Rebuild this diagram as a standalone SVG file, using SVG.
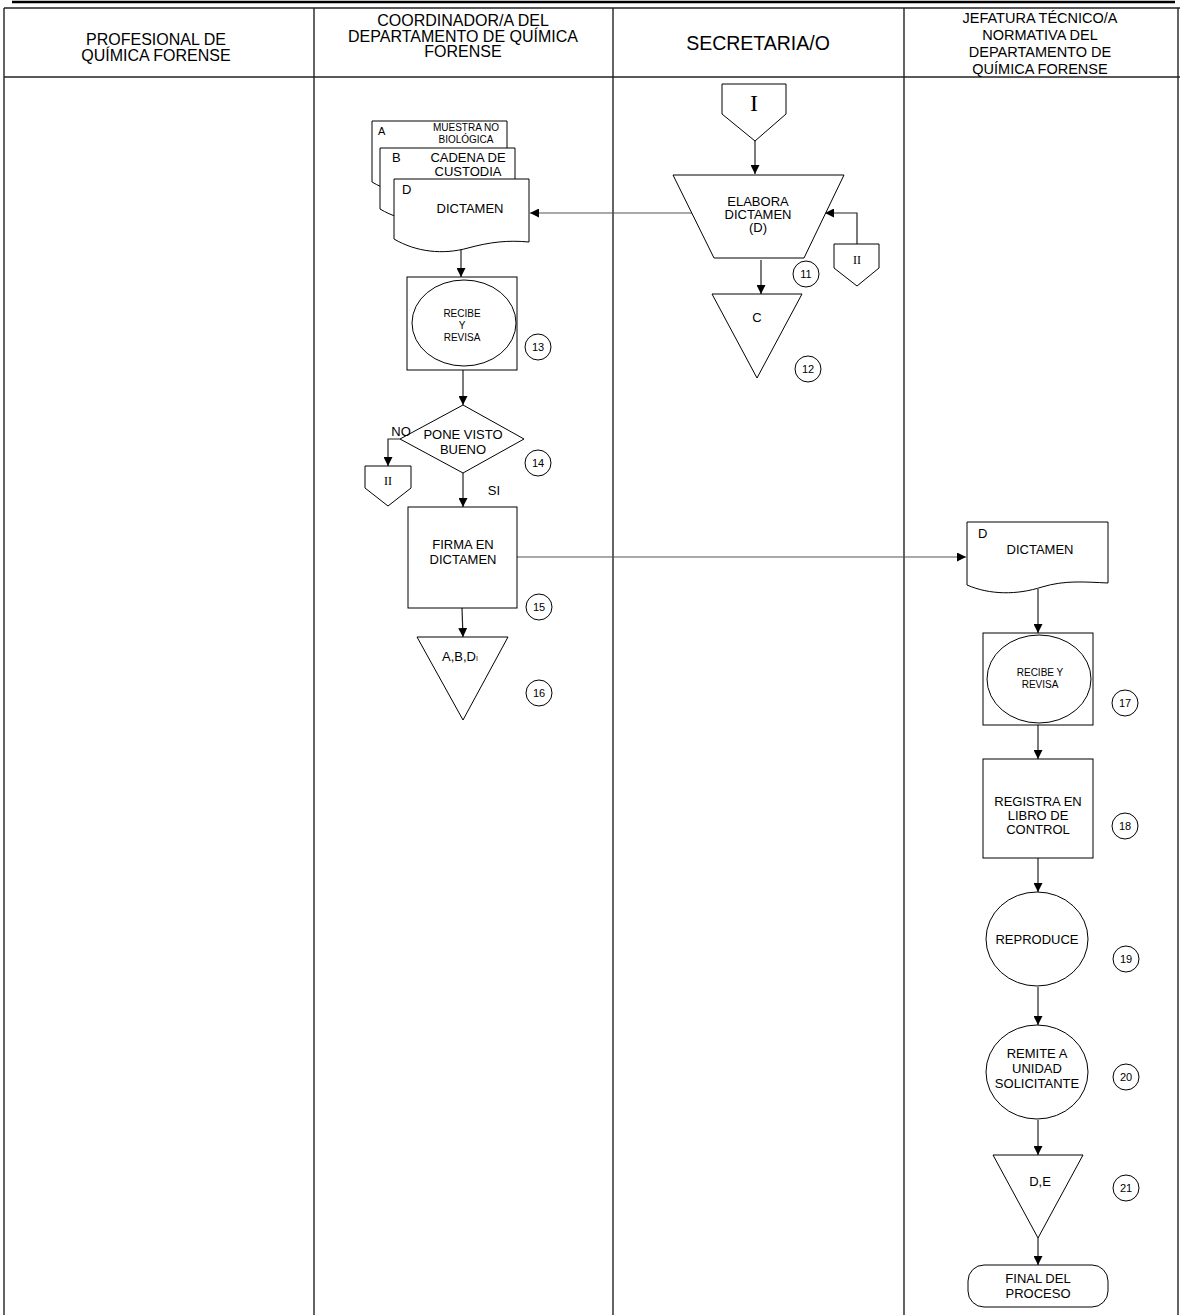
<svg xmlns="http://www.w3.org/2000/svg" width="1180" height="1315" viewBox="0 0 1180 1315">
<style>
text{font-family:'Liberation Sans',Arial,sans-serif;fill:#000;text-anchor:middle}
.h{font-size:16px}
.h4{font-size:14.5px}
.t{font-size:13px}
.s{font-size:10px}
.n{font-size:11px}
.serif{font-family:'Liberation Serif','Times New Roman',serif}
.sh{fill:#fff;stroke:#000;stroke-width:1}
.grid{stroke:#222;stroke-width:1.4;fill:none}
.c{fill:none;stroke:#222;stroke-width:1.2}
.ln{fill:none;stroke:#555;stroke-width:1.2}
</style>
<defs>
<marker id="ah" viewBox="0 0 10 10" refX="10" refY="5" markerWidth="9" markerHeight="9" markerUnits="userSpaceOnUse" orient="auto">
<path d="M0,0 L10,5 L0,10 Z" fill="#000"/>
</marker>
</defs>
<rect width="1180" height="1315" fill="#fff"/>
<g id="table">
<line x1="12" y1="2" x2="1175" y2="2" stroke="#000" stroke-width="2.5"/>
<line class="grid" x1="4" y1="8" x2="1180" y2="8"/>
<line class="grid" x1="4" y1="77" x2="1180" y2="77"/>
<line class="grid" x1="4" y1="8" x2="4" y2="1315"/>
<line class="grid" x1="314" y1="8" x2="314" y2="1315"/>
<line class="grid" x1="613" y1="8" x2="613" y2="1315"/>
<line class="grid" x1="904" y1="8" x2="904" y2="1315"/>
<line class="grid" x1="1178" y1="8" x2="1178" y2="1315"/>
<text class="h" x="156" y="45">PROFESIONAL DE</text>
<text class="h" x="156" y="61">QUÍMICA  FORENSE</text>
<text class="h" x="463" y="26">COORDINADOR/A DEL</text>
<text class="h" x="463" y="42">DEPARTAMENTO DE QUÍMICA</text>
<text class="h" x="463" y="57">FORENSE</text>
<text x="758" y="50" style="font-size:19.5px">SECRETARIA/O</text>
<text class="h4" x="1040" y="23">JEFATURA TÉCNICO/A</text>
<text class="h4" x="1040" y="40">NORMATIVA DEL</text>
<text class="h4" x="1040" y="57">DEPARTAMENTO DE</text>
<text class="h4" x="1040" y="74">QUÍMICA FORENSE</text>
</g>
<g id="connectors">
<path class="c" d="M755,141 V174" marker-end="url(#ah)"/>
<path class="ln" d="M692,213 H530" marker-end="url(#ah)"/>
<path class="c" d="M857,244 V213 H825" marker-end="url(#ah)"/>
<path class="c" d="M761,260 V294" marker-end="url(#ah)"/>
<path class="c" d="M461,249 V277" marker-end="url(#ah)"/>
<path class="c" d="M463,370 V405" marker-end="url(#ah)"/>
<path class="c" d="M400,439 H388 V466" marker-end="url(#ah)"/>
<path class="c" d="M463,473 V507" marker-end="url(#ah)"/>
<path class="ln" d="M517,557 H966" marker-end="url(#ah)"/>
<path class="c" d="M462,608 L463,637" marker-end="url(#ah)"/>
<path class="c" d="M1038,589 V633" marker-end="url(#ah)"/>
<path class="c" d="M1038,725 V759" marker-end="url(#ah)"/>
<path class="c" d="M1038,858 V892" marker-end="url(#ah)"/>
<path class="c" d="M1038,987 V1025" marker-end="url(#ah)"/>
<path class="c" d="M1038,1120 V1155" marker-end="url(#ah)"/>
<path class="c" d="M1038,1238 V1265" marker-end="url(#ah)"/>
</g>
<g id="conn-I">
<path class="sh" d="M722,84 H786 V114 L755,141 L722,114 Z"/>
<text class="serif" x="754" y="111" style="font-size:24px">I</text>
</g>
<g id="elabora">
<path class="sh" d="M673,175 H844 L804,258 H714 Z"/>
<text class="t" x="758" y="206">ELABORA</text>
<text class="t" x="758" y="219">DICTAMEN</text>
<text class="t" x="758" y="232">(D)</text>
</g>
<g id="conn-II-sec">
<path class="sh" d="M834,244 H879 V268 L857,286 L834,268 Z"/>
<text class="serif" x="857" y="264" style="font-size:12px">II</text>
</g>
<g id="n11"><circle class="sh" cx="806" cy="274" r="13"/><text class="n" x="806" y="278">11</text></g>
<g id="archivo-c">
<path class="sh" d="M712,294 H802 L757,378 Z"/>
<text class="t" x="757" y="322">C</text>
</g>
<g id="n12"><circle class="sh" cx="808" cy="369" r="13"/><text class="n" x="808" y="373">12</text></g>
<g id="doc-a">
<path class="sh" d="M372,121 H507 V185 C490,183 475,186 455,192 C430,199 395,196 372,182 Z"/>
<text class="s" x="378" y="135" style="text-anchor:start;font-size:11px">A</text>
<text class="s" x="466" y="131">MUESTRA  NO</text>
<text class="s" x="466" y="143">BIOLÓGICA</text>
</g>
<g id="doc-b">
<path class="sh" d="M380,148 H515 V212 C498,210 483,213 463,219 C438,226 403,223 380,209 Z"/>
<text class="t" x="392" y="162" style="text-anchor:start">B</text>
<text class="t" x="468" y="162">CADENA DE</text>
<text class="t" x="468" y="176">CUSTODIA</text>
</g>
<g id="doc-d">
<path class="sh" d="M394,179 H529 V242 C508,240 490,242 468,248 C443,255 416,252 394,239 Z"/>
<text class="t" x="402" y="194" style="text-anchor:start">D</text>
<text class="t" x="470" y="213">DICTAMEN</text>
</g>
<g id="recibe-1">
<rect class="sh" x="407" y="277" width="110" height="93"/>
<ellipse class="sh" cx="464" cy="323" rx="52" ry="43"/>
<text class="s" x="462" y="317">RECIBE</text>
<text class="s" x="462" y="329">Y</text>
<text class="s" x="462" y="341">REVISA</text>
</g>
<g id="n13"><circle class="sh" cx="538" cy="347" r="13"/><text class="n" x="538" y="351">13</text></g>
<g id="decision">
<path class="sh" d="M463,405 L524,439 L463,473 L400,439 Z"/>
<text class="t" x="463" y="439">PONE VISTO</text>
<text class="t" x="463" y="454">BUENO</text>
</g>
<text class="t" x="401" y="436">NO</text>
<text class="t" x="494" y="495">SI</text>
<g id="n14"><circle class="sh" cx="538" cy="463" r="13"/><text class="n" x="538" y="467">14</text></g>
<g id="conn-II-coord">
<path class="sh" d="M365,466 H411 V488 L388,506 L365,488 Z"/>
<text class="serif" x="388" y="485" style="font-size:12px">II</text>
</g>
<g id="firma">
<rect class="sh" x="408" y="507" width="109" height="101"/>
<text class="t" x="463" y="549">FIRMA EN</text>
<text class="t" x="463" y="564">DICTAMEN</text>
</g>
<g id="n15"><circle class="sh" cx="539" cy="607" r="13"/><text class="n" x="539" y="611">15</text></g>
<g id="archivo-abd">
<path class="sh" d="M417,637 H508 L463,720 Z"/>
<text class="t" x="460" y="661">A,B,D<tspan style="font-size:7px">I</tspan></text>
</g>
<g id="n16"><circle class="sh" cx="539" cy="693" r="13"/><text class="n" x="539" y="697">16</text></g>
<g id="doc-d-jef">
<path class="sh" d="M967,522 H1108 V583 C1085,582 1065,580 1042,587 C1017,595 990,595 967,585 Z"/>
<text class="t" x="978" y="538" style="text-anchor:start">D</text>
<text class="t" x="1040" y="554">DICTAMEN</text>
</g>
<g id="recibe-2">
<rect class="sh" x="983" y="633" width="110" height="92"/>
<ellipse class="sh" cx="1039" cy="679" rx="52" ry="44"/>
<text class="s" x="1040" y="676">RECIBE Y</text>
<text class="s" x="1040" y="688">REVISA</text>
</g>
<g id="n17"><circle class="sh" cx="1125" cy="703" r="13"/><text class="n" x="1125" y="707">17</text></g>
<g id="registra">
<rect class="sh" x="983" y="759" width="110" height="99"/>
<text class="t" x="1038" y="806">REGISTRA EN</text>
<text class="t" x="1038" y="820">LIBRO DE</text>
<text class="t" x="1038" y="834">CONTROL</text>
</g>
<g id="n18"><circle class="sh" cx="1125" cy="826" r="13"/><text class="n" x="1125" y="830">18</text></g>
<g id="reproduce">
<ellipse class="sh" cx="1037" cy="939" rx="51" ry="47"/>
<text class="t" x="1037" y="944">REPRODUCE</text>
</g>
<g id="n19"><circle class="sh" cx="1126" cy="959" r="13"/><text class="n" x="1126" y="963">19</text></g>
<g id="remite">
<ellipse class="sh" cx="1037" cy="1072" rx="51" ry="47"/>
<text class="t" x="1037" y="1058">REMITE A</text>
<text class="t" x="1037" y="1073">UNIDAD</text>
<text class="t" x="1037" y="1088">SOLICITANTE</text>
</g>
<g id="n20"><circle class="sh" cx="1126" cy="1077" r="13"/><text class="n" x="1126" y="1081">20</text></g>
<g id="archivo-de">
<path class="sh" d="M993,1155 H1083 L1038,1238 Z"/>
<text class="t" x="1040" y="1186">D,E</text>
</g>
<g id="n21"><circle class="sh" cx="1126" cy="1188" r="13"/><text class="n" x="1126" y="1192">21</text></g>
<g id="final">
<rect class="sh" x="968" y="1265" width="140" height="42" rx="16" ry="16"/>
<text class="t" x="1038" y="1283">FINAL DEL</text>
<text class="t" x="1038" y="1298">PROCESO</text>
</g>
</svg>
